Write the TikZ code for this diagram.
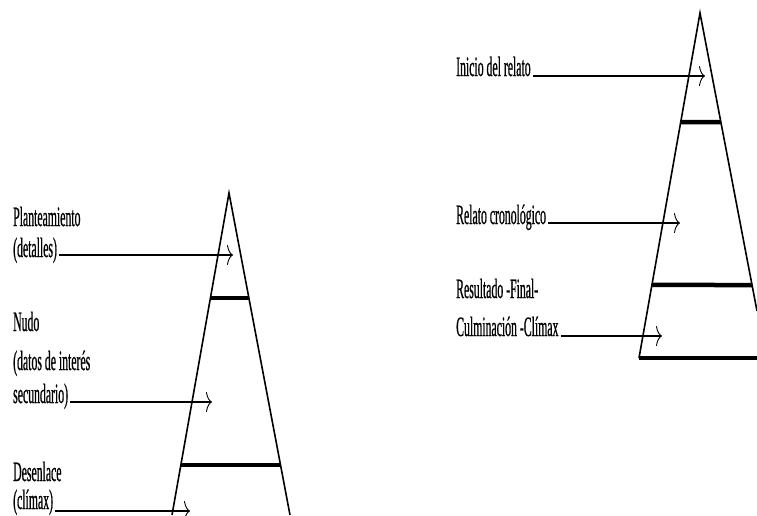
\documentclass[tikz,border=0pt]{standalone}
\usepackage{fontspec}
\setmainfont{Liberation Serif}[FakeStretch=0.42,FakeBold=0.6]
\usetikzlibrary{arrows.meta,calc}
\begin{document}
\begin{tikzpicture}[x=1pt,y=-1pt,
  lbl/.style={anchor=base west,inner sep=0pt,font=\fontsize{28}{32}\selectfont},
  side/.style={line width=1.6pt},
  bar/.style={line width=4.5pt},
  ptr/.style={line width=1.6pt,-{To[length=6pt,width=20pt,line width=0.9pt]}}]
\useasboundingbox (0,0) rectangle (757,515);
% left pyramid
\coordinate (LA) at (229,193);
\coordinate (LL) at (172,515);
\coordinate (LR) at (290,515);
\draw[side] (LL) -- (LA) -- (LR);
\draw[bar] ($(LA)!0.326!(LL)$) -- ($(LA)!0.326!(LR)$);
\draw[bar] ($(LA)!0.845!(LL)$) -- ($(LA)!0.845!(LR)$);
% right pyramid
\coordinate (RA) at (700,13);
\coordinate (RL) at (639,358);
\coordinate (RR) at (757,311);
\coordinate (RB) at (757,358);
\draw[side] (RL) -- (RA) -- (RR);
\draw[bar] ($(RA)!0.316!(RL)$) -- ($(RA)!0.366!(RR)$);
\draw[bar] ($(RA)!0.788!(RL)$) -- ($(RA)!0.913!(RR)$);
\draw[bar] (RL) -- (RB);
% left labels
\node[lbl] (t1) at (13,226) {Planteamiento};
\node[lbl] (t2) at (13,257) {(detalles)};
\node[lbl] (t3) at (13,331) {Nudo};
\node[lbl] (t4) at (13,370) {(datos de interés};
\node[lbl] (t5) at (13,403) {secundario)};
\node[lbl] (t6) at (13,481) {Desenlace};
\node[lbl] (t7) at (13,509) {(clímax)};
% right labels
\node[lbl] (r1) at (456,76) {Inicio del relato};
\node[lbl] (r2) at (456,224) {Relato cronológico};
\node[lbl] (r3) at (456,298) {Resultado -Final-};
\node[lbl] (r4) at (456,336) {Culminación -Clímax};
% arrow tips
\coordinate (p1) at (233,255);
\coordinate (p2) at (212,402);
\coordinate (p3) at (190,511);
\coordinate (q1) at (705,76);
\coordinate (q2) at (680,223);
\coordinate (q3) at (662,336);
\draw[ptr] ([xshift=2pt]t2.base east |- p1) -- (p1);
\draw[ptr] ([xshift=2pt]t5.base east |- p2) -- (p2);
\draw[ptr] ([xshift=2pt]t7.base east |- p3) -- (p3);
\draw[ptr] ([xshift=2pt]r1.base east |- q1) -- (q1);
\draw[ptr] ([xshift=2pt]r2.base east |- q2) -- (q2);
\draw[ptr] ([xshift=2pt]r4.base east |- q3) -- (q3);
\end{tikzpicture}
\end{document}
